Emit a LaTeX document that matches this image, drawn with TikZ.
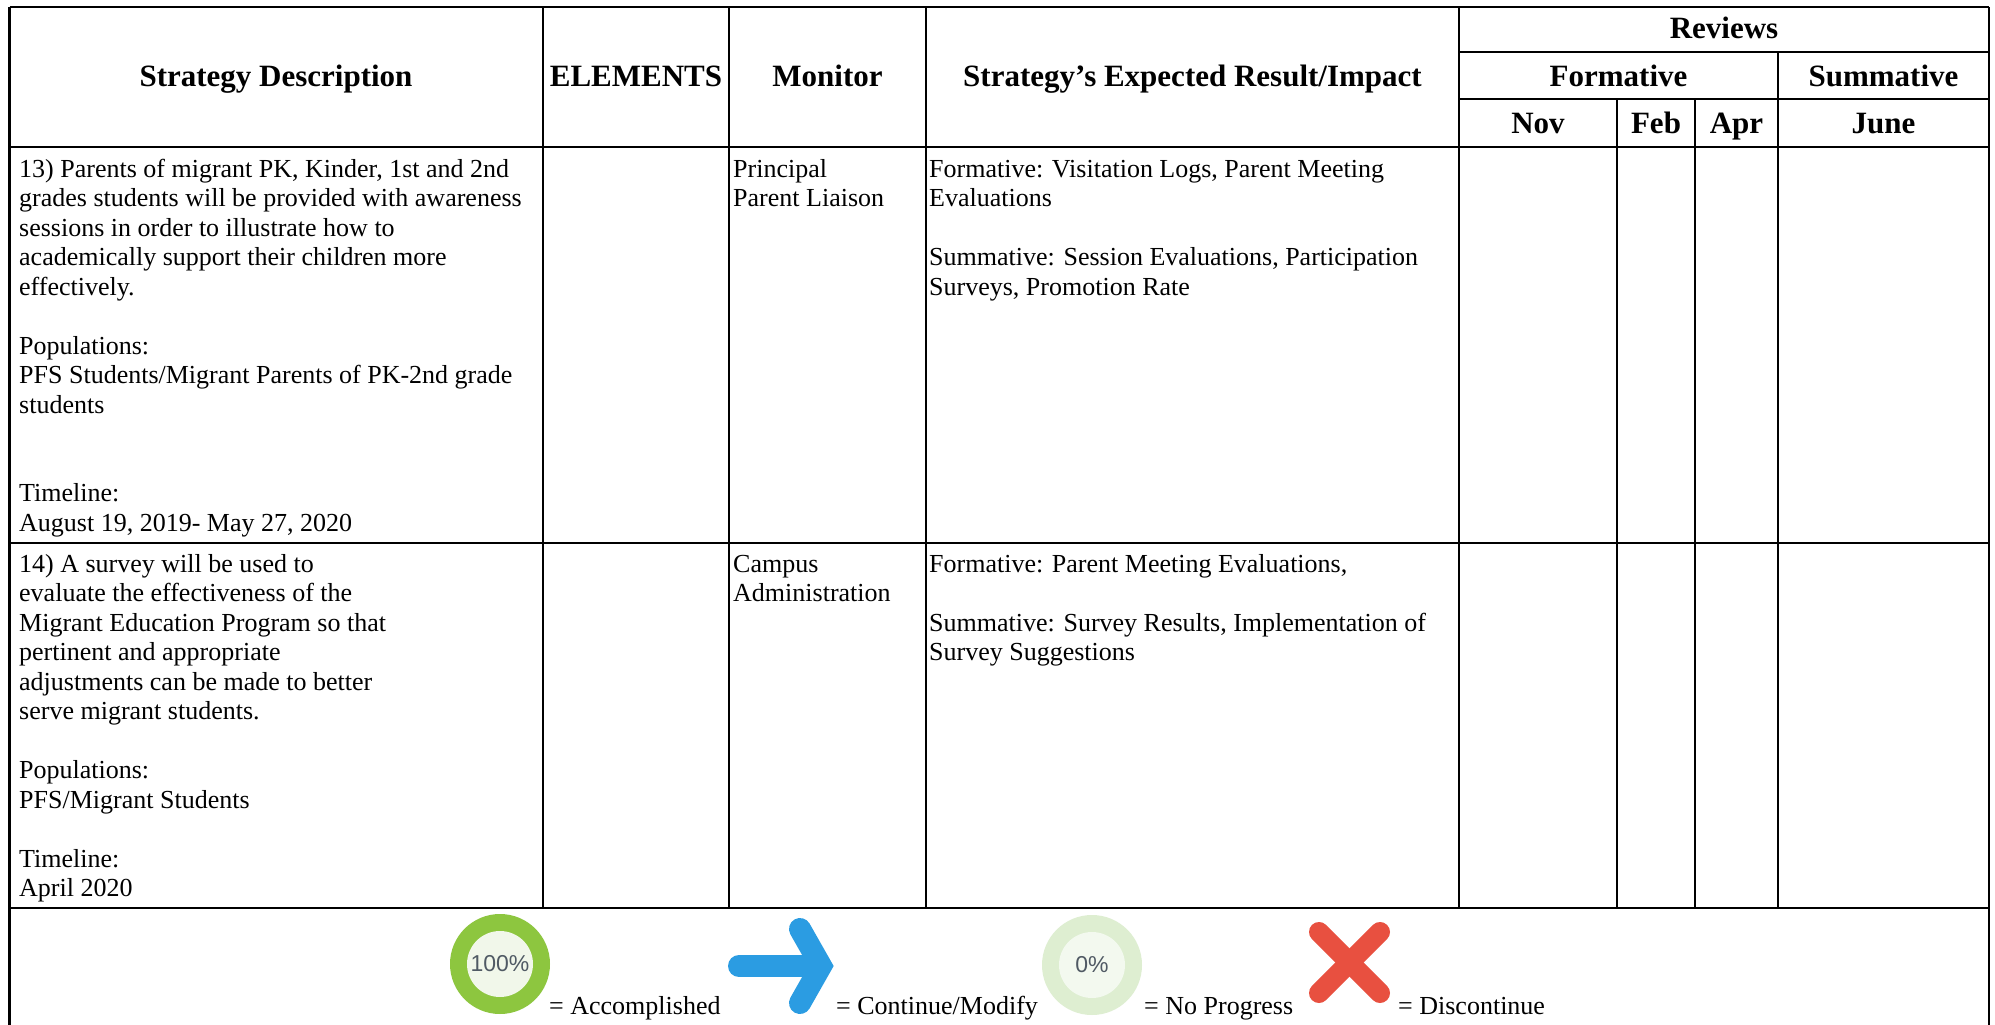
\documentclass[tikz,border=0pt]{standalone}
\usepackage{fontspec}
\setmainfont{Liberation Serif}
\newfontfamily\legsans{Liberation Sans}
\definecolor{okgreen}{RGB}{141,198,63}
\definecolor{okfill}{RGB}{241,247,234}
\definecolor{nogreen}{RGB}{222,238,209}
\definecolor{nofill}{RGB}{243,249,239}
\definecolor{arrowblue}{RGB}{43,156,226}
\definecolor{xred}{RGB}{232,80,64}
\definecolor{pcttext}{RGB}{80,90,100}
\newcommand\hdfont{\fontsize{31}{36}\selectfont\bfseries}
\newcommand\bodyfont{\fontsize{26}{29.5}\selectfont}
\newcommand\pctfont{\legsans\fontsize{23}{26}\selectfont}
\newcommand\fl{\rule{0pt}{21pt}}
\tikzset{
  gridline/.style={line width=2.2pt, black},
  hd/.style={anchor=base, inner sep=0pt, font=\hdfont},
  txt/.style={anchor=north west, inner sep=0pt, align=left, font=\bodyfont},
  leg/.style={anchor=base west, inner sep=0pt, font=\bodyfont},
  pct/.style={inner sep=0pt, font=\pctfont, text=pcttext},
  sym/.style={line width=22pt, line cap=round, line join=round},
}
\begin{document}
\begin{tikzpicture}[x=1pt,y=-1pt]
\useasboundingbox (0,0) rectangle (1995,1025);
\fill[white] (0,0) rectangle (1995,1025);
% grid
\draw[gridline] (9.5,7) -- (1989,7);
\draw[gridline] (1459,52) -- (1989,52);
\draw[gridline] (1459,99) -- (1989,99);
\draw[gridline] (9.5,147) -- (1989,147);
\draw[gridline] (9.5,543) -- (1989,543);
\draw[gridline] (9.5,908) -- (1989,908);
\draw[gridline] (9.5,7) -- (9.5,1025);
\draw[gridline] (1989,7) -- (1989,1025);
\foreach \cx in {543,729,926,1459} \draw[gridline] (\cx,7) -- (\cx,908);
\draw[gridline] (1778,52) -- (1778,908);
\foreach \cx in {1617,1695} \draw[gridline] (\cx,99) -- (\cx,908);
% header
\node[hd] (hdesc) at (276,87) {Strategy Description};
\node[hd] (helem) at (636,87) {ELEMENTS};
\node[hd] (hmon) at (827.5,87) {Monitor};
\node[hd] (hres) at (1192.5,87) {Strategy{\char"0027}s Expected Result/Impact};
\node[hd] (hrev) at (1724,39) {Reviews};
\node[hd] (hform) at (1618.5,86.5) {Formative};
\node[hd] (hsum) at (1883.5,86.5) {Summative};
\node[hd] (hnov) at (1538,133.5) {Nov};
\node[hd] (hfeb) at (1656,133.5) {Feb};
\node[hd] (hapr) at (1736.5,133.5) {Apr};
\node[hd] (hjun) at (1883.5,133.5) {June};
% row 13
\node[txt] (d13a) at (19,156) {\fl 13) Parents of migrant PK, Kinder, 1st and 2nd\\grades students will be provided with awareness\\sessions in order to illustrate how to\\academically support their children more\\effectively.};
\node[txt] (d13b) at (19,333) {\fl Populations:\\PFS Students/Migrant Parents of PK-2nd grade\\students};
\node[txt] (d13c) at (19,480.5) {\fl Timeline:\\August 19, 2019- May 27, 2020};
\node[txt] (m13) at (733,156) {\fl Principal\\Parent Liaison};
\node[txt] (r13a) at (929,156) {\fl Formative: Visitation Logs, Parent Meeting\\Evaluations};
\node[txt] (r13b) at (929,244.5) {\fl Summative: Session Evaluations, Participation\\Surveys, Promotion Rate};
% row 14
\node[txt] (d14a) at (19,551) {\fl 14) A survey will be used to\\evaluate the effectiveness of the\\Migrant Education Program so that\\pertinent and appropriate\\adjustments can be made to better\\serve migrant students.};
\node[txt] (d14b) at (19,757.5) {\fl Populations:\\PFS/Migrant Students};
\node[txt] (d14c) at (19,846) {\fl Timeline:\\April 2020};
\node[txt] (m14) at (733,551) {\fl Campus\\Administration};
\node[txt] (r14a) at (929,551) {\fl Formative: Parent Meeting Evaluations,};
\node[txt] (r14b) at (929,610) {\fl Summative: Survey Results, Implementation of\\Survey Suggestions};
% legend
\fill[okgreen] (500,964) circle (50pt);
\fill[okfill] (500,964) circle (33pt);
\node[pct] (p100) at (500,964) {100\%};
\node[leg] (lacc) at (549,1014) {= Accomplished};
\draw[sym, arrowblue] (739,966) -- (815,966);
\draw[sym, arrowblue, line join=miter] (800,929) -- (821,966) -- (800,1003);
\node[leg] (lcon) at (836,1014) {= Continue/Modify};
\fill[nogreen] (1092,965) circle (50pt);
\fill[nofill] (1092,965) circle (33pt);
\node[pct] (p0) at (1092,965) {0\%};
\node[leg] (lnop) at (1144,1014) {= No Progress};
\draw[sym, xred, line width=20pt] (1319,932) -- (1380,993);
\draw[sym, xred, line width=20pt] (1380,932) -- (1319,993);
\node[leg] (ldis) at (1398,1014) {= Discontinue};
\end{tikzpicture}
\end{document}
